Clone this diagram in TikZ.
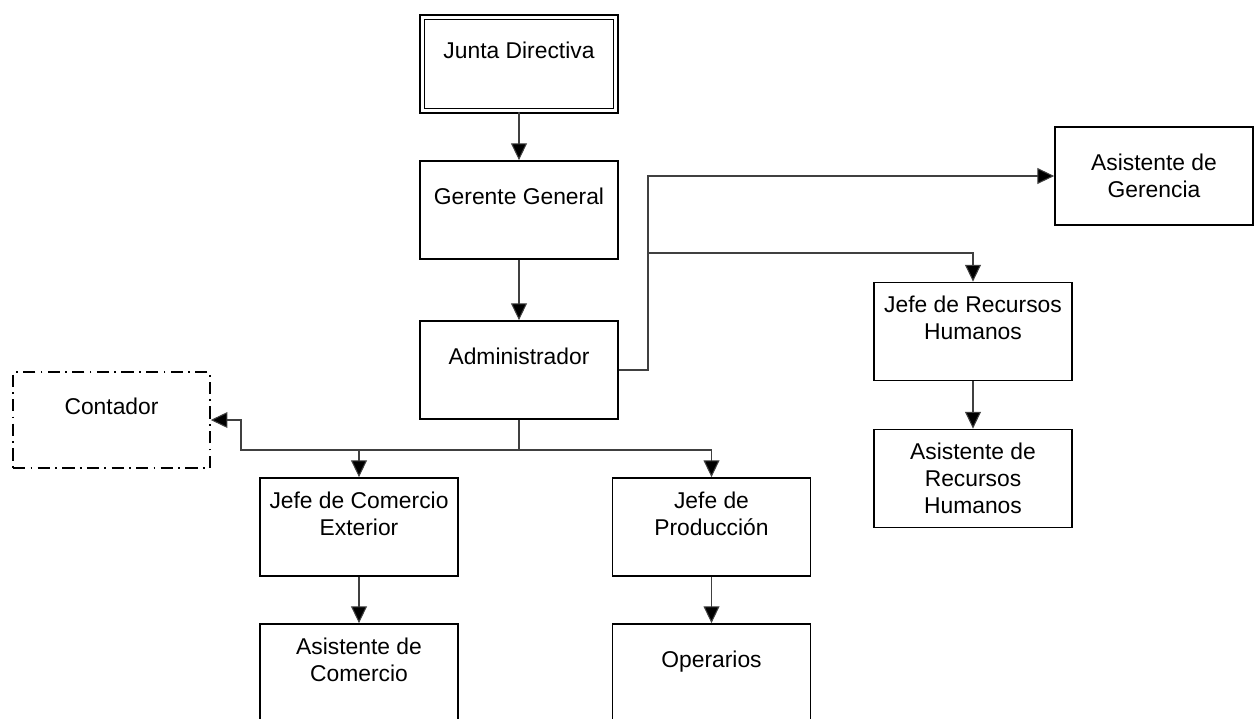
\documentclass[tikz,border=0pt]{standalone}
\usepackage{fontspec}
\setmainfont{Liberation Sans}
\usetikzlibrary{arrows.meta}

\tikzset{
    caja/.style={draw, line width=1pt, minimum width=112.7pt, minimum height=55.8pt,
        inner sep=0pt, align=center, font=\fontsize{13}{15.4}\selectfont},
    con/.style={draw=black!75, line width=0.6pt, -{Triangle[length=9.5pt,width=9pt,fill=black]}}
}

\begin{document}
\begin{tikzpicture}[x=0.5692pt, y=-0.5692pt]
                    \useasboundingbox (0,0) rectangle (1258,718);
                    \clip (0,0) rectangle (1258,718);

                    \node[caja, double, double distance=1.6pt, minimum width=110.1pt, minimum height=53.2pt] (junta) at (519,64) {Junta Directiva\\~};
                    \node[caja] (gerente) at (519,210) {Gerente General\\~};
                    \node[caja] (admin) at (519,370) {Administrador\\~};
                    \node[caja, dash pattern=on 7pt off 3pt on 1pt off 3pt, minimum width=112pt, minimum height=54.6pt] (contador) at (111.5,420) {Contador\\~};
                    \node[caja] (asgerencia) at (1154,176) {Asistente de\\Gerencia};
                    \node[caja] (jeferrhh) at (973,331.5) {Jefe de Recursos\\Humanos\\~};
                    \node[caja] (asrrhh) at (973,478.5) {Asistente de\\Recursos\\Humanos};
                    \foreach \x/\mylab/\mytxt in {359/jefecom/Jefe de Comercio\\Exterior, 711.5/jefeprod/Jefe de\\Producción} {
                        \node[caja] (\mylab) at (\x,527) {\mytxt\\~};
                    }
                    \node[caja] (ascom) at (359,673) {Asistente de\\Comercio\\~};
                    \node[caja] (operarios) at (711.5,673) {Operarios\\~};

                    \coordinate (baja) at (241,450);
                    \coordinate (der) at (648,370);
                    \coordinate (rama) at (648,253);

                    \draw[con] (junta) -- (gerente);
                    \draw[con] (gerente) -- (admin);
                    \draw[con] (admin) -- (admin |- baja) -| (jefecom);
                    \draw[con] (admin |- baja) -| (jefeprod);
                    \draw[con] (admin |- baja) -- (baja) |- (contador);
                    \draw[con] (admin) -- (der) |- (asgerencia);
                    \draw[con] (rama) -| (jeferrhh);
                    \draw[con] (jeferrhh) -- (asrrhh);
                    \draw[con] (jefecom) -- (ascom);
                    \draw[con] (jefeprod) -- (operarios);
                \end{tikzpicture}
\end{document}
